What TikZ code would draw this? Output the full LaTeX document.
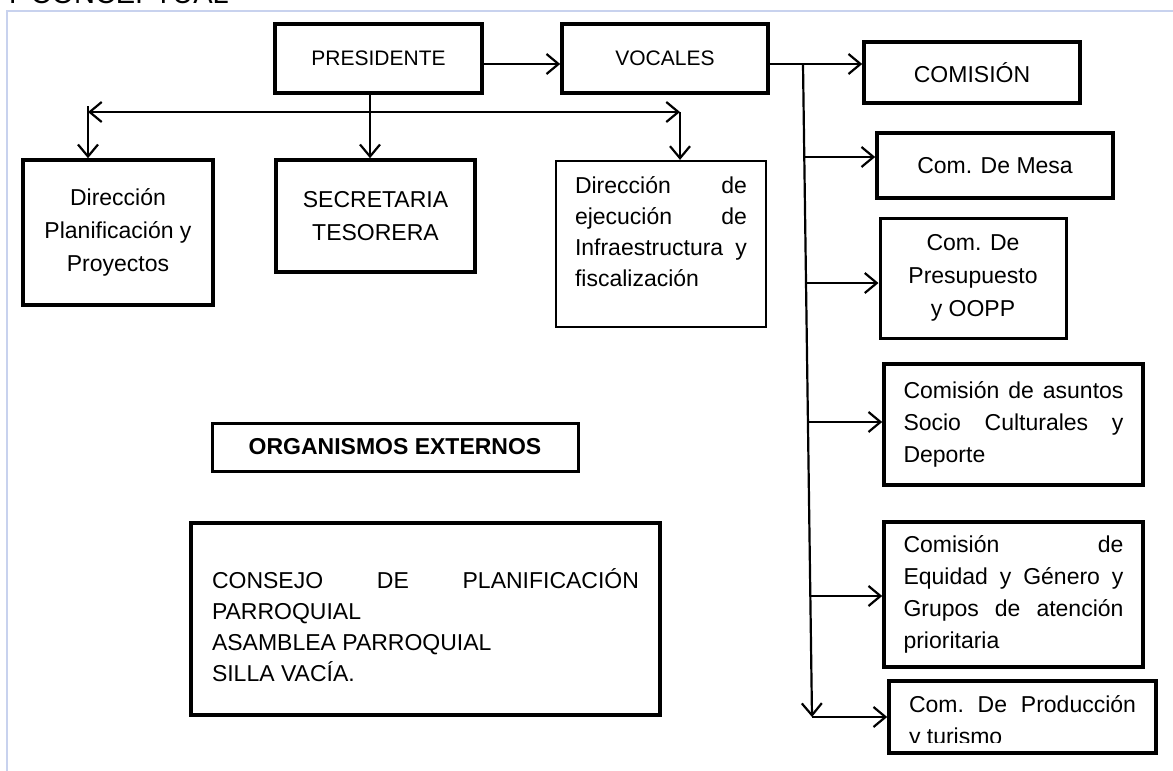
\documentclass[tikz,border=0pt]{standalone}
\usepackage{fontspec}
\setmainfont{Liberation Sans}
\usetikzlibrary{arrows.meta,calc}
\hyphenpenalty=10000
\exhyphenpenalty=10000
\definecolor{framec}{RGB}{200,210,238}
\tikzset{
  bb/.tip={Straight Barb[length=12pt,width=20pt]},
  bx/.style={draw, line width=3.6pt, rectangle, inner sep=0pt, align=center, font=\fontsize{23}{32}\selectfont},
  bxthin/.style={bx, line width=2.2pt},
  conn/.style={line width=2.2pt},
  arr/.style={conn,-bb},
  darr/.style={conn,bb-bb},
}
\begin{document}
\begin{tikzpicture}[x=1pt,y=-1pt]
\useasboundingbox (0,0) rectangle (1173,771);
% page frame
\draw[framec, line width=1.5pt] (7,771) -- (7,11) -- (1173,11);
% cut title
\begin{scope}
\clip (0,0) rectangle (400,3);
\node[anchor=base west, inner sep=0pt, font=\fontsize{29}{29}\selectfont] (ttl) at (3,3) {Y CONCEPTUAL};
\end{scope}

% boxes
\node[bx, font=\fontsize{21}{28}\selectfont, minimum width=207pt, minimum height=69pt] (pres) at (378.5,58.5) {PRESIDENTE};
\node[bx, font=\fontsize{21}{28}\selectfont, minimum width=206pt, minimum height=69pt] (voc) at (665,58.5) {VOCALES};
\node[bx, minimum width=216pt, minimum height=61pt] (com) at (972,72.5) {COMISIÓN};
\node[bx, minimum width=236pt, minimum height=65pt] (mesa) at (995,165.5) {Com. De Mesa};
\node[bx, line width=3pt, font=\fontsize{23}{33}\selectfont, minimum width=186pt, minimum height=120pt] (ppto) at (973,278) {Com. De\\ Presupuesto\\ y OOPP};
\node[bx, minimum width=259pt, minimum height=121pt] (asun) at (1013.5,424.5) {\parbox{220pt}{Comisión\hfill de\hfill asuntos\\ Socio\hfill Culturales\hfill y\\ Deporte}};
\node[bx, minimum width=259pt, minimum height=145pt] (equi) at (1013.5,594.5) {\parbox{220pt}{Comisión\hfill de\\ Equidad\hfill y\hfill Género\hfill y\\ Grupos\hfill de\hfill atención\\ prioritaria}};
\node[bx, minimum width=267pt, minimum height=72pt] (prod) at (1022.5,717) {};
\begin{scope}
\clip (prod.north west) rectangle (1160,742);
\node[anchor=base, inner sep=0pt, font=\fontsize{23}{32}\selectfont] (prodt) at (1022.5,712) {\parbox[t]{227pt}{Com.\hfill De\hfill Producción\\ y turismo}};
\end{scope}

\node[bx, font=\fontsize{23}{33}\selectfont, minimum width=190pt, minimum height=145pt] (dirp) at (118,232.5) {Dirección\\ Planificación y\\ Proyectos};
\node[bx, font=\fontsize{23}{33}\selectfont, minimum width=199pt, minimum height=112pt] (secr) at (375.5,216) {SECRETARIA\\ TESORERA};
\node[bxthin, font=\fontsize{23}{31}\selectfont, minimum width=210pt, minimum height=166pt] (ejec) at (661,244) {\parbox{172pt}{Dirección\hfill de\\ ejecución\hfill de\\ Infraestructura\hfill y\\ fiscalización\par\vspace*{24pt}}};

\node[bx, line width=3pt, font=\bfseries\fontsize{23}{28}\selectfont, minimum width=366pt, minimum height=48pt] (orgx) at (395,447) {ORGANISMOS EXTERNOS};
\node[bx, font=\fontsize{23}{31}\selectfont, minimum width=469pt, minimum height=192pt] (cons) at (425.5,619) {\parbox{427pt}{\vspace*{12pt}CONSEJO\hfill DE\hfill PLANIFICACIÓN\\ PARROQUIAL\\ ASAMBLEA PARROQUIAL\\ SILLA VACÍA.}};

% connectors
\coordinate (t0) at (803,64);
\coordinate (t1) at (812,717);
\coordinate (hL) at (88,112);
\coordinate (hR) at (680,112);

\draw[arr] (pres.east |- t0) -- (voc.west |- t0);
\draw[conn] (voc.east |- t0) -- (t0);
\draw[arr] (t0) -- (com.west |- t0);
\draw[arr] (t0) -- (t1);
\foreach \f/\n in {0.1424/mesa, 0.3354/ppto, 0.5482/asun, 0.8147/equi}{
  \coordinate (b) at ($(t0)!\f!(t1)$);
  \draw[arr] (b) -- (b -| \n.west);
}
\draw[arr] (t1) -- (t1 -| prod.west);

\draw[darr] (hL) -- (hR);
\draw[arr] ($(hL)+(0,-6)$) -- (hL |- dirp.north);
\draw[arr] (hR) -- (hR |- ejec.north);
\draw[arr] ([xshift=-8.5pt]pres.south) -- ([xshift=-8.5pt]pres.south |- secr.north);
\end{tikzpicture}
\end{document}
